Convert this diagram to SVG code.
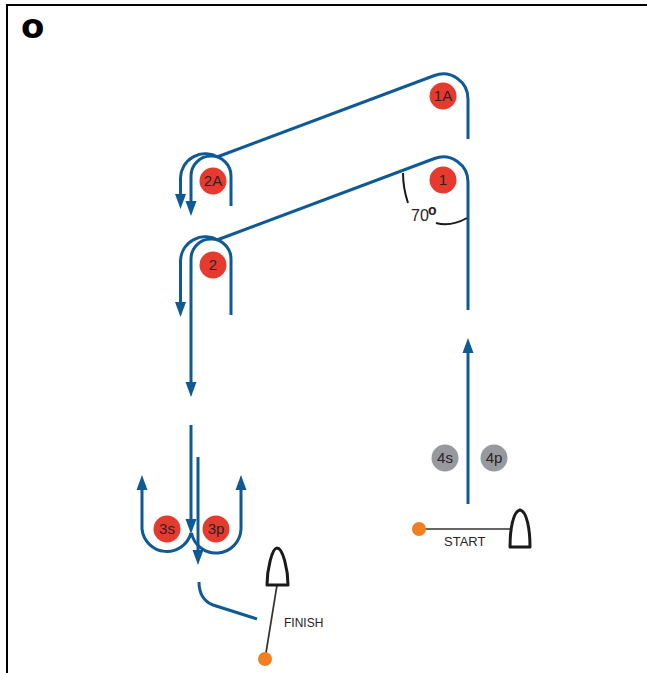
<svg xmlns="http://www.w3.org/2000/svg" width="647" height="673" viewBox="0 0 647 673">
<style>
.frame{fill:none;stroke:#000;stroke-width:2}
.c{fill:none;stroke:#0f5a94;stroke-width:3}
.a{marker-end:url(#a)}
.k{fill:none;stroke:#1a1a1a;stroke-width:2}
.t{fill:none;stroke:#333;stroke-width:1.7}
.boat{fill:#fff;stroke:#1a1a1a;stroke-width:3;stroke-linejoin:round}
.red{fill:#e63a2e}
.gray{fill:#98989f}
.org{fill:#f07f22}
text{font-family:"Liberation Sans",Arial,sans-serif;fill:#2a2228}
.m{font-size:15px;text-anchor:middle}
</style>
<defs><marker id="a" markerUnits="userSpaceOnUse" markerWidth="16" markerHeight="12" refX="1" refY="6" orient="auto" viewBox="0 0 16 12"><path d="M0 .5L15 6L0 11.500Z" fill="#0f5a94"/></marker></defs>
<path class="frame" d="M7 673V5H647"/>
<text x="21" y="38" font-size="34" font-weight="700" style="font-family:'DejaVu Sans',sans-serif;fill:#000">o</text>
<g id="connectors">
<path class="c" d="M468 139V99A25 25 0 0 0 434.500 75.500L217 157"/>
<path class="c a" d="M218 157A25 25 0 0 0 180.500 178V195"/>
<path class="c a" d="M231 206V176A20 20 0 0 0 191 176V202"/>
<path class="c" d="M468 310V182A25 25 0 0 0 434.500 158.500L217 240"/>
<path class="c a" d="M218 240A25 25 0 0 0 180.500 261V303"/>
<path class="c a" d="M231 315V259A20 20 0 0 0 191 259V383"/>
<path class="c a" d="M191 425V520"/>
<path class="c a" d="M198 457V551"/>
<path class="c a" d="M191 533A25 25 0 0 1 142 529V489"/>
<path class="c a" d="M191.500 533A25 25 0 0 0 241 529V489"/>
<path class="c" d="M199 582C199 592 203 601 213 605L257 619"/>
<path class="c a" d="M468 504V352"/>
<path class="k" d="M403 173C403 184 405 194 408 203"/>
<path class="k" d="M436 223C447 226 458 223 467 218"/>
<path class="t" d="M419 529H510"/>
<path class="t" d="M277 585L265 659"/>
</g>
<g id="n1A"><circle class="red" cx="443" cy="96" r="13.500"/><text class="m" x="443" y="101">1A</text></g>
<g id="n1"><circle class="red" cx="443" cy="180" r="13.500"/><text class="m" x="443" y="185">1</text></g>
<g id="n2A"><circle class="red" cx="213" cy="181" r="13.500"/><text class="m" x="213" y="186">2A</text></g>
<g id="n2"><circle class="red" cx="213" cy="265" r="13.500"/><text class="m" x="213" y="270">2</text></g>
<g id="n3s"><circle class="red" cx="167" cy="529" r="13.500"/><text class="m" x="167" y="534">3s</text></g>
<g id="n3p"><circle class="red" cx="216" cy="529" r="13.500"/><text class="m" x="216" y="534">3p</text></g>
<g id="n4s"><circle class="gray" cx="445" cy="458" r="13.500"/><text class="m" x="445" y="463">4s</text></g>
<g id="n4p"><circle class="gray" cx="494" cy="458" r="13.500"/><text class="m" x="494" y="463">4p</text></g>
<text x="411" y="221" font-size="16">70</text><text x="428" y="215" font-size="14" font-weight="700">o</text>
<g id="start"><circle class="org" cx="419" cy="529" r="7"/><path class="boat" d="M510 547C510 530 513 511 520 510C527 511 530 530 530 547Z"/><text x="444" y="546" font-size="13">START</text></g>
<g id="finish"><circle class="org" cx="265" cy="659" r="7"/><path class="boat" d="M267 585C267 570 272 548 277 548C283 548 288 570 288 585Z"/><text x="284" y="627" font-size="12">FINISH</text></g>
</svg>
